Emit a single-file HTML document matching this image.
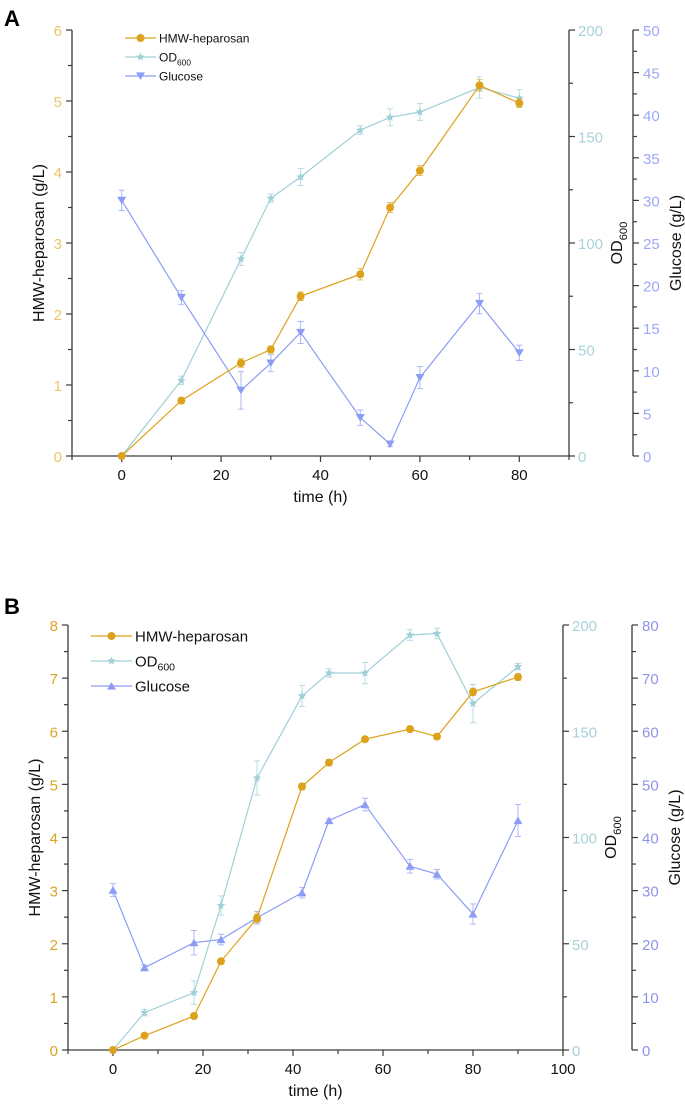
<!DOCTYPE html>
<html><head><meta charset="utf-8"><style>
body{margin:0;background:#fff}
svg{display:block;font-family:"Liberation Sans",Arial,sans-serif}
</style></head><body>
<svg id="chart" width="685" height="1109" viewBox="0 0 685 1109" xmlns="http://www.w3.org/2000/svg">
<text x="4" y="26" font-size="22" font-weight="bold">A</text>
<text x="4" y="614" font-size="22" font-weight="bold">B</text>
</svg>
<script>
// Panel A data
const aTimeHMW = [0,12,24,30,36,48,54,60,72,80];
const aHMW = [0,0.78,1.31,1.5,2.25,2.56,3.5,4.02,5.22,4.97];
const aHMWErr = [0.02,0.04,0.06,0.05,0.06,0.08,0.07,0.07,0.08,0.06];
const aOD = [0,35.5,92.5,121,131,153,159,161.5,173,168];
const aODErr = [1,2,3,2,4,2,4,4,5,4];
const aGlu = [30,18.6,7.7,10.9,14.5,4.5,1.4,9.2,17.9,12.1];
const aGluErr = [1.2,0.8,2.2,1.0,1.3,0.9,0.3,1.3,1.2,0.9];
const aXTicks = [0,20,40,60,80];
const aLeftTicks = [0,1,2,3,4,5,6];
const aODTicks = [0,50,100,150,200];
const aGluTicks = [0,5,10,15,20,25,30,35,40,45,50];
// Panel B data
const bTime = [0,7,18,24,32,42,48,56,66,72,80,90];
const bHMW = [0,0.27,0.64,1.67,2.48,4.96,5.41,5.85,6.04,5.9,6.74,7.02];
const bHMWErr = [0.02,0.04,0.05,0.05,0.08,0.06,0.06,0.05,0.05,0.05,0.07,0.06];
const bOD = [0,17.6,27,68,128,166.6,177.4,177.4,195.3,196,163,180.4];
const bODErr = [1,1.5,5.5,4.5,8,5,2,5,2.5,2.5,9,1.5];
const bGlu = [30.1,15.5,20.2,20.8,24.9,29.6,43.2,46.2,34.6,33.1,25.6,43.2];
const bGluErr = [1.2,0.5,2.3,1,1.2,1,0.3,1.2,1.3,0.9,1.9,3];
const bXTicks = [0,20,40,60,80,100];
const bLeftTicks = [0,1,2,3,4,5,6,7,8];
const bODTicks = [0,50,100,150,200];
const bGluTicks = [0,10,20,30,40,50,60,70,80];

const svg = document.getElementById('chart');
const NS = 'http://www.w3.org/2000/svg';
function mk(tag, attrs, parent, text){
  const e = document.createElementNS(NS, tag);
  for (const k in attrs) e.setAttribute(k, attrs[k]);
  if (text !== undefined) e.textContent = text;
  (parent||svg).appendChild(e);
  return e;
}
const C_H='#dca21c', C_OD='#9fd0d7', C_G='#8d9cf4';

function marker(g, kind, x, y, color, r){
  if(kind==='circle') return mk('circle',{cx:x,cy:y,r:r,fill:color},g);
  if(kind==='star'){
    let p=[];for(let i=0;i<10;i++){const a=-Math.PI/2+i*Math.PI/5;const rr=i%2?r*0.45:r;p.push((x+rr*Math.cos(a)).toFixed(1)+','+(y+rr*Math.sin(a)).toFixed(1));}
    return mk('polygon',{points:p.join(' '),fill:color},g);
  }
  if(kind==='down') return mk('polygon',{points:`${x-r},${y-r*0.8} ${x+r},${y-r*0.8} ${x},${y+r*0.9}`,fill:color},g);
  if(kind==='up') return mk('polygon',{points:`${x-r},${y+r*0.8} ${x+r},${y+r*0.8} ${x},${y-r*0.9}`,fill:color},g);
}

function panel(P){
  const g = mk('g',{}, svg);
  
  
  const sx = v => P.x0 + (v - P.xmin) / (P.xmax - P.xmin) * (P.x1 - P.x0);
  const syL = v => P.y0 - v / P.lmax * (P.y0 - P.y1);
  const syO = v => P.y0 - v / P.omax * (P.y0 - P.y1);
  const syG = v => P.y0 - v / P.gmax * (P.y0 - P.y1);
  const ax = '#3a3a3a';
  // axes
  mk('line',{x1:P.x0,y1:P.y0,x2:P.x1,y2:P.y0,stroke:ax,'stroke-width':1.3},g);
  mk('line',{x1:P.x0,y1:P.y0,x2:P.x0,y2:P.y1,stroke:ax,'stroke-width':1.3},g);
  mk('line',{x1:P.x1,y1:P.y0,x2:P.x1,y2:P.y1,stroke:ax,'stroke-width':1.3},g);
  mk('line',{x1:P.gx,y1:P.y0,x2:P.gx,y2:P.y1,stroke:ax,'stroke-width':1.3},g);
  // x ticks
  const xs = P.xTicks[1]-P.xTicks[0];
  for (let v=P.xmin; v<=P.xmax+0.01; v+=xs/2){
    const major = P.xTicks.includes(v);
    mk('line',{x1:sx(v),y1:P.y0,x2:sx(v),y2:P.y0+(major?6:4),stroke:ax,'stroke-width':1.2},g);
  }
  P.xTicks.forEach(v=>{
    const t=mk('text',{x:sx(v),y:P.y0+24,'font-size':P.fs,'text-anchor':'middle',fill:'#111'},g,String(v));
    
    
  });
  // left ticks
  const ls=P.lTicks[1]-P.lTicks[0];
  for(let v=0;v<=P.lmax+0.001;v+=ls/2){
    const major=Math.abs(v-Math.round(v/ls)*ls)<1e-6;
    mk('line',{x1:P.x0,y1:syL(v),x2:P.x0-(major?6:4),y2:syL(v),stroke:ax,'stroke-width':1.2},g);
  }
  P.lTicks.forEach(v=>{
    const t=mk('text',{x:P.x0-10,y:syL(v)+6,'font-size':P.fs,'text-anchor':'end',fill:P.lColor},g,String(v));
    
    
  });
  // OD ticks
  const os=P.oTicks[1]-P.oTicks[0];
  for(let v=0;v<=P.omax+0.001;v+=os/2){
    const major=Math.abs(v%os)<1e-6;
    mk('line',{x1:P.x1,y1:syO(v),x2:P.x1+(major?6:4),y2:syO(v),stroke:ax,'stroke-width':1.2},g);
  }
  P.oTicks.forEach(v=>{
    const t=mk('text',{x:P.x1+9,y:syO(v)+6,'font-size':P.fs,fill:'#a8d3d8'},g,String(v));
    
    
  });
  // glucose ticks
  const gs=P.gTicks[1]-P.gTicks[0];
  for(let v=0;v<=P.gmax+0.001;v+=gs/2){
    const major=Math.abs(v%gs)<1e-6;
    mk('line',{x1:P.gx,y1:syG(v),x2:P.gx+(major?6:4),y2:syG(v),stroke:ax,'stroke-width':1.2},g);
  }
  P.gTicks.forEach(v=>{
    const t=mk('text',{x:P.gx+10,y:syG(v)+6,'font-size':P.fs,fill:P.gColor},g,String(v));
    
    
  });
  // titles
  const cy=(P.y0+P.y1)/2;
  let t=mk('text',{x:0,y:0,'font-size':P.tfs,'text-anchor':'middle',fill:'#111',transform:`translate(${P.x0-28},${cy}) rotate(-90)`},g,'HMW-heparosan (g/L)');
  
  t=mk('text',{x:0,y:0,'font-size':P.tfs,'text-anchor':'middle',fill:'#111',transform:`translate(${P.x1+53},${cy}) rotate(-90)`},g);
  t.innerHTML='OD<tspan font-size="'+(P.tfs*0.7)+'" dy="5">600</tspan>';
  
  t=mk('text',{x:0,y:0,'font-size':P.tfs,'text-anchor':'middle',fill:'#111',transform:`translate(${P.gx+48},${cy}) rotate(-90)`},g,'Glucose (g/L)');
  
  t=mk('text',{x:(P.x0+P.x1)/2,y:P.y0+46,'font-size':P.tfs,'text-anchor':'middle',fill:'#111'},g,'time (h)');
  
  // series
  const series=[
    {vals:P.od,err:P.odErr,sy:syO,c:C_OD,m:'star',n:'od600-series'},
    {vals:P.glu,err:P.gluErr,sy:syG,c:C_G,m:P.gm,n:'glucose-series'},
    {vals:P.hmw,err:P.hmwErr,sy:syL,c:C_H,m:'circle',n:'hmw-heparosan-series'}
  ];
  series.forEach(s=>{
    const sg=mk('g',{},g);
    
    
    mk('polyline',{points:P.time.map((tv,i)=>sx(tv)+','+s.sy(s.vals[i])).join(' '),fill:'none',stroke:s.c,'stroke-width':1.2},sg);
    P.time.forEach((tv,i)=>{
      const x=sx(tv),yt=s.sy(s.vals[i]+s.err[i]),yb=s.sy(s.vals[i]-s.err[i]);
      mk('path',{d:`M${x},${yt}V${yb}M${x-3},${yt}H${x+3}M${x-3},${yb}H${x+3}`,stroke:s.c,'stroke-width':0.9,fill:'none',opacity:0.8},sg);
    });
    P.time.forEach((tv,i)=>{
      const m=marker(sg,s.m,sx(tv),s.sy(s.vals[i]),s.c,s.m==='circle'?4:4.5);
      
      
    });
  });
  // legend
  const lg=mk('g',{},g);
  
  
  [['HMW-heparosan',C_H,'circle'],['OD',C_OD,'star'],['Glucose',C_G,P.gm]].forEach((e,i)=>{
    const y=P.legY+i*P.legDy;
    const eg=mk('g',{},lg);
    
    
    mk('line',{x1:P.legX,y1:y,x2:P.legX+P.legW,y2:y,stroke:e[1],'stroke-width':1.2},eg);
    marker(eg,e[2],P.legX+P.legW/2,y,e[1],e[2]==='circle'?4:4.5);
    const tx=mk('text',{x:P.legX+P.legW+3,y:y+P.lfs*0.36,'font-size':P.lfs,fill:'#111'},eg);
    if(e[0]==='OD') tx.innerHTML='OD<tspan font-size="'+(P.lfs*0.7)+'" dy="4">600</tspan>'; else tx.textContent=e[0];
  });
}

panel({name:'panel-a-chart',x0:72,x1:569,xmin:-10,xmax:90,y0:456,y1:30,gx:633,
  lmax:6,omax:200,gmax:50,xTicks:aXTicks,lTicks:aLeftTicks,oTicks:aODTicks,gTicks:aGluTicks,
  time:aTimeHMW,hmw:aHMW,hmwErr:aHMWErr,od:aOD,odErr:aODErr,glu:aGlu,gluErr:aGluErr,gm:'down',
  lColor:'#ecc566',gColor:'#9da8f6',fs:15,tfs:16,lfs:12,legX:125,legY:38,legDy:19,legW:31});
panel({name:'panel-b-chart',x0:68,x1:563,xmin:-10,xmax:100,y0:1050,y1:625,gx:632,
  lmax:8,omax:200,gmax:80,xTicks:bXTicks,lTicks:bLeftTicks,oTicks:bODTicks,gTicks:bGluTicks,
  time:bTime,hmw:bHMW,hmwErr:bHMWErr,od:bOD,odErr:bODErr,glu:bGlu,gluErr:bGluErr,gm:'up',
  lColor:'#dba524',gColor:'#8f94e8',fs:15,tfs:16,lfs:15,legX:91,legY:636,legDy:25,legW:41});
</script>
</body></html>
